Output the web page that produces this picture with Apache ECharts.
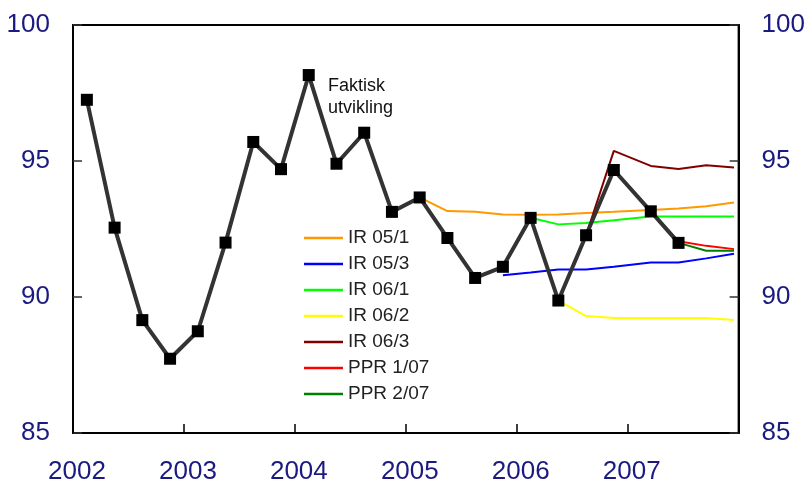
<!DOCTYPE html>
<html>
<head>
<meta charset="utf-8">
<script src="https://cdn.jsdelivr.net/npm/echarts@6/dist/echarts.min.js"></script>
<style>
  html, body { margin: 0; padding: 0; background: #fff; }
  #main { width: 808px; height: 489px; }
</style>
</head>
<body>
<div id="main"></div>
<script>
// plotted month for each quarter (2007 is plotted at quarter end)
const periods = [
  "2002-02", "2002-05", "2002-08", "2002-11",
  "2003-02", "2003-05", "2003-08", "2003-11",
  "2004-02", "2004-05", "2004-08", "2004-11",
  "2005-02", "2005-05", "2005-08", "2005-11",
  "2006-02", "2006-05", "2006-08", "2006-11",
  "2007-03", "2007-06", "2007-09", "2007-12",
];
const yearTicks = [2002, 2003, 2004, 2005, 2006, 2007];

const faktisk = [97.25, 92.55, 89.15, 87.73, 88.74, 92.0, 95.7, 94.7, 98.16, 94.9, 96.04, 93.13,
  93.66, 92.17, 90.7, 91.11, 92.91, 89.87, 92.27, 94.67, 93.15, 91.99, null, null];

const n = (k) => Array(k).fill(null);
const ir051 = n(12).concat([93.66, 93.16, 93.13, 93.03, 93.02, 93.03, 93.09, 93.13, 93.2, 93.25, 93.34, 93.47]);
const ir053 = n(15).concat([90.8, 90.9, 91.01, 91.01, 91.11, 91.27, 91.27, 91.42, 91.59]);
const ir061 = n(16).concat([92.91, 92.67, 92.72, 92.82, 92.96, 92.96, 92.96, 92.96]);
const ir062 = n(17).concat([89.87, 89.3, 89.23, 89.23, 89.23, 89.23, 89.15]);
const ir063 = n(18).concat([92.27, 95.37, 94.82, 94.71, 94.84, 94.76]);
const ppr107 = n(20).concat([93.15, 92.05, 91.88, 91.76]);
const ppr207 = n(21).concat([91.99, 91.7, 91.7]);

const FONT = "Liberation Sans, Arial, sans-serif";
const NAVY = "#1a1a80";

function toYear(p) {
  const [y, m] = p.split("-").map(Number);
  return y + (m - 0.5) / 12;
}
function pairs(vals) {
  const out = [];
  vals.forEach((v, i) => { if (v !== null) out.push([toYear(periods[i]), v]); });
  return out;
}
function forecast(name, vals, color) {
  return {
    name: name, type: "line", data: pairs(vals), symbol: "none",
    lineStyle: { color: color, width: 2 }, itemStyle: { color: color }, z: 2,
  };
}

const yAxisBase = {
  type: "value", min: 85, max: 100, interval: 5,
  axisLine: { show: true, lineStyle: { color: "#000", width: 2 } },
  axisTick: { show: true, inside: true, length: 9, lineStyle: { color: "#333", width: 1.5 } },
  axisLabel: { color: NAVY, fontSize: 26, fontFamily: FONT, margin: 23 },
  splitLine: { show: false },
};

let options = {
  animation: false,
  backgroundColor: "#fff",
  grid: { left: 73, right: 68, top: 25, bottom: 56, show: true, borderColor: "#000", borderWidth: 2 },
  legend: {
    orient: "vertical", left: 299, top: 223,
    icon: "rect", itemWidth: 39, itemHeight: 2.5, itemGap: 6,
    textStyle: { fontSize: 19, lineHeight: 20, color: "#222", fontFamily: FONT },
    data: ["IR 05/1", "IR 05/3", "IR 06/1", "IR 06/2", "IR 06/3", "PPR 1/07", "PPR 2/07"],
  },
  xAxis: {
    type: "value", min: 2002, max: 2008, interval: 1,
    axisLine: { lineStyle: { color: "#000", width: 2 } },
    axisTick: { inside: true, length: 9, lineStyle: { color: "#000", width: 1.5 } },
    axisLabel: {
      color: NAVY, fontSize: 26, fontFamily: FONT, margin: 26, padding: [0, 0, 0, 8],
      formatter: (v) => (yearTicks.includes(v) ? String(v) : ""),
    },
    splitLine: { show: false },
  },
  yAxis: [
    Object.assign({}, yAxisBase, { position: "left" }),
    Object.assign({}, yAxisBase, { position: "right" }),
  ],
  graphic: [{
    type: "text", left: 328, top: 75,
    style: { text: "Faktisk\nutvikling", fontSize: 18, lineHeight: 22, fill: "#111", fontFamily: FONT },
  }],
  series: [
    forecast("IR 05/1", ir051, "#ff9900"),
    forecast("IR 05/3", ir053, "#0000ff"),
    forecast("IR 06/1", ir061, "#00ff00"),
    forecast("IR 06/2", ir062, "#ffff00"),
    forecast("IR 06/3", ir063, "#800000"),
    forecast("PPR 1/07", ppr107, "#ff0000"),
    forecast("PPR 2/07", ppr207, "#008000"),
    {
      name: "Faktisk utvikling", type: "line", data: pairs(faktisk),
      symbol: "rect", symbolSize: 12,
      lineStyle: { color: "#333", width: 4 }, itemStyle: { color: "#000" }, z: 5,
    },
  ],
};

let myChart = echarts.init(document.getElementById("main"));
myChart.setOption(options);
</script>
</body>
</html>
